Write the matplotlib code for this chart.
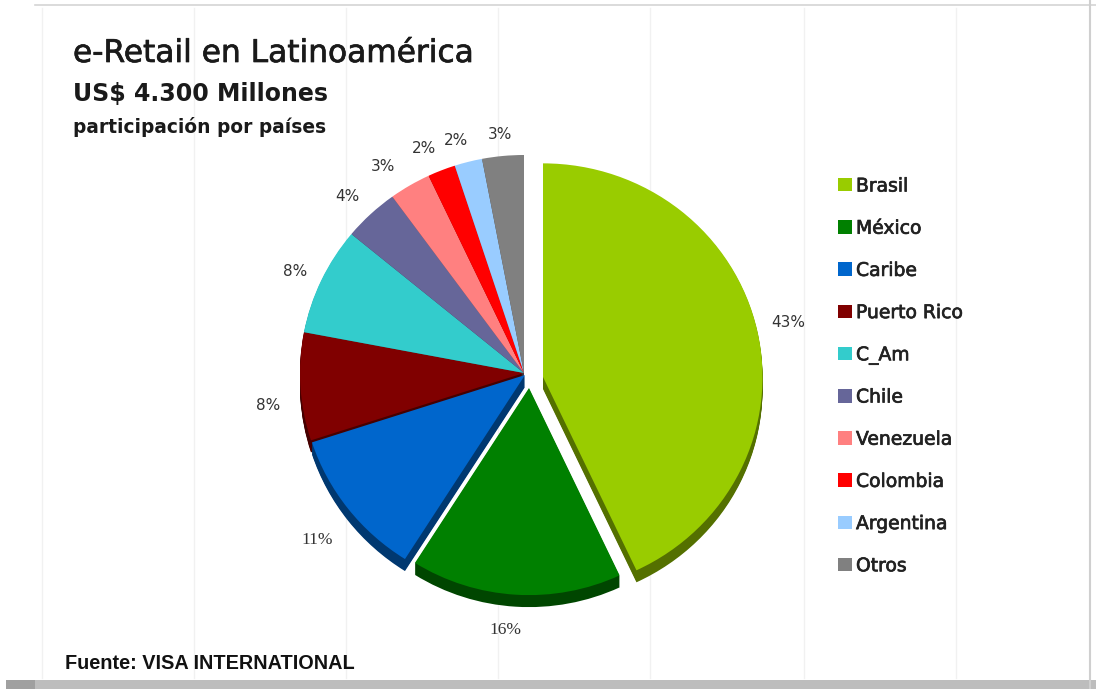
import matplotlib
matplotlib.use('Agg')
import matplotlib.pyplot as plt
from matplotlib.patches import Rectangle
from matplotlib.lines import Line2D
from matplotlib.transforms import ScaledTranslation
import matplotlib.colors as mcolors
import matplotlib.patheffects as pe

# ---- data ----
countries = ['Brasil', 'México', 'Caribe', 'Puerto Rico', 'C_Am', 'Chile',
             'Venezuela', 'Colombia', 'Argentina', 'Otros']
shares = [43, 16, 11, 8, 8, 4, 3, 2, 2, 3]
colors = ['#99CC00', '#008000', '#0066CC', '#800000', '#33CCCC', '#666699',
          '#FF8080', '#FF0000', '#99CCFF', '#808080']
label_texts = [f'{v}%' for v in shares]

title = 'e-Retail en Latinoamérica'
subtitle = 'US$ 4.300 Millones'
subtitle2 = 'participación por países'
source = 'Fuente: VISA INTERNATIONAL'

# ---- styling ----
slice_shift_px = [(19, 4), (5, 15), (1, 2), (0, 0), (0, 0), (0, 0),
                  (0, 0), (0, 0), (0, 0), (0, 0)]
wedge_radius = [0.98, 0.95, 1, 1, 1, 1, 1, 1, 1, 1]
label_offsets_px = [(17, 3), (-3, 11), (-7, 16), (-3, 17), (0, 3), (-3, 3),
                    (-12, 6), (-7, 5), (-5, 6), (0, 7)]

W, H = 1096, 689
fig = plt.figure(figsize=(W / 100, H / 100), dpi=100)
fig.patch.set_facecolor('white')


def fx(px):
    return px / W


def fy(py):
    return 1 - py / H


# faint background guide lines
for x in [42, 194, 346, 498, 650, 804, 956]:
    fig.add_artist(Line2D([fx(x)] * 2, [fy(8), fy(678)], color='#f1f1f1', lw=1, zorder=0))

# frame decorations
fig.add_artist(Line2D([fx(35), 1], [fy(5), fy(5)], color='#d4d4d4', lw=1.2))
fig.add_artist(Line2D([fx(1090), fx(1090)], [0, 1], color='#cfcfcf', lw=1.5))
fig.add_artist(Rectangle((fx(35), 0), 1 - fx(35), 9 / H, transform=fig.transFigure,
                         facecolor='#bdbdbd', edgecolor='none'))
fig.add_artist(Rectangle((fx(6), 0), 29 / W, 9 / H, transform=fig.transFigure,
                         facecolor='#a0a0a0', edgecolor='none'))

# ---- pie ----
cx, cy, rx, ry = 524, 373, 224, 218
half = 300
ax = fig.add_axes([fx(cx - half), fy(cy + half), 2 * half / W, 2 * half / H])
depth = 12 / ry
N = 12
dark = [tuple(c * 0.55 for c in mcolors.to_rgb(col)) for col in colors]
for k in range(N, 0, -1):
    sw, _ = ax.pie(shares, colors=dark, startangle=90, counterclock=False,
                   wedgeprops=dict(linewidth=0))
    for w, r, (dx, dy) in zip(sw, wedge_radius, slice_shift_px):
        w.set_radius(r)
        w.set_center((dx / rx, -dy / ry - depth * k / N))
wedges, texts = ax.pie(shares, colors=colors, startangle=90,
                       counterclock=False, labels=label_texts, labeldistance=1.13,
                       wedgeprops=dict(linewidth=0),
                       textprops=dict(fontsize=11, color='#333333'))
for w, r, (dx, dy) in zip(wedges, wedge_radius, slice_shift_px):
    w.set_radius(r)
    w.set_center((dx / rx, -dy / ry))
for t, (dx, dy) in zip(texts, label_offsets_px):
    t.set_ha('center')
    t.set_va('center')
    t.set_transform(t.get_transform() + ScaledTranslation(dx / 100, -dy / 100, fig.dpi_scale_trans))
for i in (1, 2):
    texts[i].set_fontfamily('Liberation Serif')
    texts[i].set_fontsize(12.5)
ax.set_aspect('auto')
ax.set_xlim(-half / rx, half / rx)
ax.set_ylim(-half / ry, half / ry)
ax.axis('off')

# ---- titles ----
fig.text(fx(73), fy(62), title, fontsize=22.5, color='#1a1a1a', va='baseline', ha='left',
         path_effects=[pe.withStroke(linewidth=0.5, foreground='#1a1a1a')])
fig.text(fx(73), fy(101), subtitle, fontsize=17, weight='bold', color='#1a1a1a',
         va='baseline', ha='left')
fig.text(fx(73), fy(133), subtitle2, fontsize=13.4, weight='bold', color='#1a1a1a',
         va='baseline', ha='left')
fig.text(fx(65), fy(669), source, fontsize=14.3, weight='bold', family='Liberation Sans',
         color='#111111', va='baseline', ha='left')

# ---- legend ----
leg_y0, step = 185, 42.2
for i, (name, col) in enumerate(zip(countries, colors)):
    y = leg_y0 + i * step
    fig.add_artist(Rectangle((fx(838), fy(y + 6.5)), 13.5 / W, 13.5 / H,
                             transform=fig.transFigure, facecolor=col, edgecolor='none'))
    fig.text(fx(856), fy(y + 6.5), name, fontsize=13.5, color='#222222',
             va='baseline', ha='left',
             path_effects=[pe.withStroke(linewidth=0.5, foreground='#222222')])

fig.savefig('out.png', dpi=100, facecolor='white')
